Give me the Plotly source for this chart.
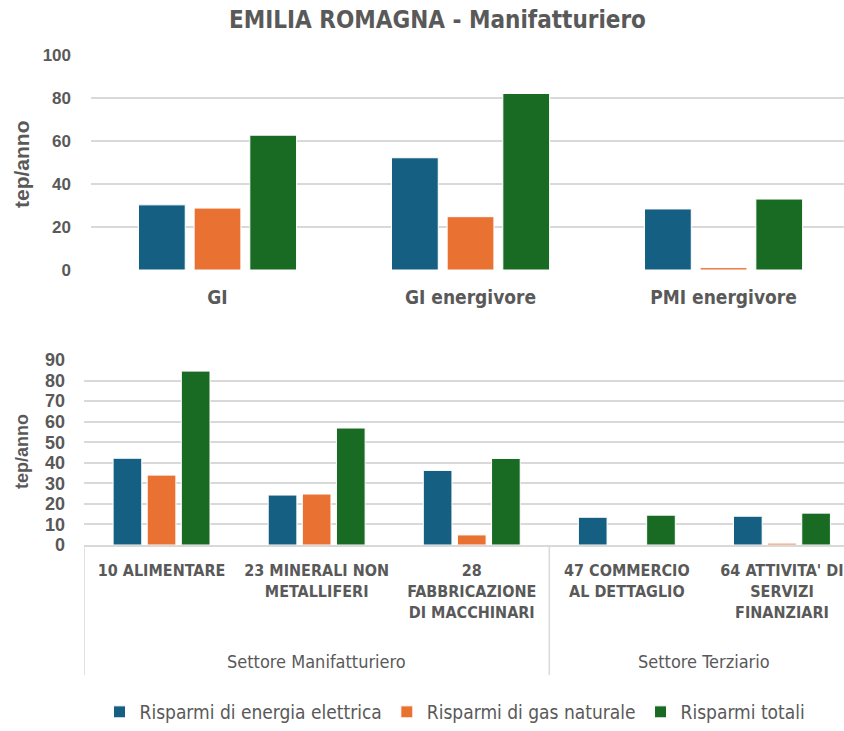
import plotly.graph_objects as go

W, H = 844, 731

series_names = ["Risparmi di energia elettrica", "Risparmi di gas naturale", "Risparmi totali"]
colors = ["#156082", "#E97132", "#196B24"]

top_categories = ["GI", "GI energivore", "PMI energivore"]
top_elettrica = [30.3, 52.2, 28.4]
top_gas = [28.8, 24.8, 1.1]
top_totali = [62.7, 82.1, 33.0]

bottom_categories = ["10 ALIMENTARE", "23 MINERALI NON<br>METALLIFERI", "28<br>FABBRICAZIONE<br>DI MACCHINARI",
                     "47 COMMERCIO<br>AL DETTAGLIO", "64 ATTIVITA' DI<br>SERVIZI<br>FINANZIARI"]
bottom_elettrica = [42.2, 24.3, 36.3, 13.5, 14.0]
bottom_gas = [34.0, 24.8, 4.9, 0.0, 0.9]
bottom_totali = [84.6, 56.9, 42.1, 14.5, 15.5]

sector_labels = ["Settore Manifatturiero", "Settore Terziario"]
sector_spans = [(0, 2), (3, 4)]

title_text = "EMILIA ROMAGNA - Manifatturiero"
y_title = "tep/anno"
top_ticks = [0, 20, 40, 60, 80, 100]
bottom_ticks = [0, 10, 20, 30, 40, 50, 60, 70, 80, 90]

NARROW = "Liberation Sans Narrow, Arial Narrow, DejaVu Sans Condensed, sans-serif"
ARIAL = "Liberation Sans, Arial, sans-serif"
GRAY = "#595959"
GRID = "#d9d9d9"

def py(px):
    return 1 - px / H

fig = go.Figure()

top_vals = [top_elettrica, top_gas, top_totali]
bot_vals = [bottom_elettrica, bottom_gas, bottom_totali]
top_x = list(range(len(top_categories)))
bot_x = list(range(len(bottom_categories)))

for i, name in enumerate(series_names):
    fig.add_trace(go.Bar(x=top_x, y=top_vals[i], name=name, marker_color=colors[i],
                         marker_line=dict(color="white", width=1),
                         xaxis="x", yaxis="y", offsetgroup=str(i), legendgroup=str(i)))
for i, name in enumerate(series_names):
    fig.add_trace(go.Bar(x=bot_x, y=bot_vals[i], name=name, marker_color=colors[i],
                         marker_line=dict(color="white", width=1),
                         xaxis="x2", yaxis="y2", offsetgroup=str(i), legendgroup=str(i),
                         showlegend=False))

fig.update_layout(
    template="none",
    width=W, height=H,
    margin=dict(l=0, r=0, t=0, b=0, pad=0),
    paper_bgcolor="white", plot_bgcolor="white",
    barmode="group", bargap=0.34, bargroupgap=0.16,
    font=dict(family=NARROW, color=GRAY),
    showlegend=True,
    legend=dict(orientation="h", x=455 / W, xanchor="center", y=0, yanchor="bottom",
                font=dict(family=NARROW, size=19, color=GRAY), itemwidth=30, tracegroupgap=0,
                bgcolor="rgba(0,0,0,0)"),
    xaxis=dict(domain=[91 / W, 1], range=[-0.5, 2.476], anchor="y", automargin=False,
               tickvals=top_x, ticktext=top_categories, showgrid=False, zeroline=False,
               showline=False, ticks="", ticklabelstandoff=14,
               tickfont=dict(family=NARROW, size=19, color=GRAY, weight="bold")),
    yaxis=dict(domain=[py(270), py(55)], range=[0, 100], anchor="x", automargin=False,
               tickvals=top_ticks, showgrid=True, gridcolor=GRID, gridwidth=1.5,
               zeroline=False, showline=False, ticks="", ticklabelstandoff=19,
               tickfont=dict(family=ARIAL, size=17, color=GRAY, weight="bold")),
    xaxis2=dict(domain=[84 / W, 1], range=[-0.5, 4.40], anchor="y2", automargin=False,
                tickvals=bot_x, ticktext=bottom_categories, showgrid=False, zeroline=False,
                showline=True, linecolor=GRID, linewidth=1.5, ticks="", ticklabelstandoff=10,
                ticklabeloverflow="allow",
                tickfont=dict(family=NARROW, size=16, color=GRAY, weight="bold")),
    yaxis2=dict(domain=[py(545), py(360)], range=[0, 90], anchor="x2", automargin=False,
                tickvals=bottom_ticks, showgrid=True, gridcolor=GRID, gridwidth=1.5,
                zeroline=False, showline=False, ticks="", ticklabelstandoff=18,
                tickfont=dict(family=ARIAL, size=18, color=GRAY, weight="bold")),
)

annotations = [
    dict(text=title_text, x=437 / W, y=py(20), xref="paper", yref="paper", showarrow=False,
         xanchor="center", yanchor="middle",
         font=dict(family=NARROW, size=24, color=GRAY, weight="bold")),
    dict(text=y_title, x=22 / W, y=py(164), xref="paper", yref="paper", showarrow=False,
         textangle=-90, xanchor="center", yanchor="middle",
         font=dict(family=ARIAL, size=21, color=GRAY, weight="bold")),
    dict(text=y_title, x=22 / W, y=py(452), xref="paper", yref="paper", showarrow=False,
         textangle=-90, xanchor="center", yanchor="middle",
         font=dict(family=ARIAL, size=18, color=GRAY, weight="bold")),
]
for label, (a, b) in zip(sector_labels, sector_spans):
    annotations.append(dict(text=label, x=(a + b) / 2, y=py(661), xref="x2", yref="paper",
                            showarrow=False, xanchor="center", yanchor="middle",
                            font=dict(family=NARROW, size=18, color=GRAY)))
fig.update_layout(annotations=annotations)

shapes = []
for xb in [-0.5, 2.5]:
    shapes.append(dict(type="line", xref="x2", yref="paper", x0=xb, x1=xb,
                       y0=py(545), y1=py(675), line=dict(color=GRID, width=1.5)))
fig.update_layout(shapes=shapes)

fig.write_html("out.html", config={"displayModeBar": False},
               post_script="document.body.style.margin='0';document.body.style.overflow='hidden';")
